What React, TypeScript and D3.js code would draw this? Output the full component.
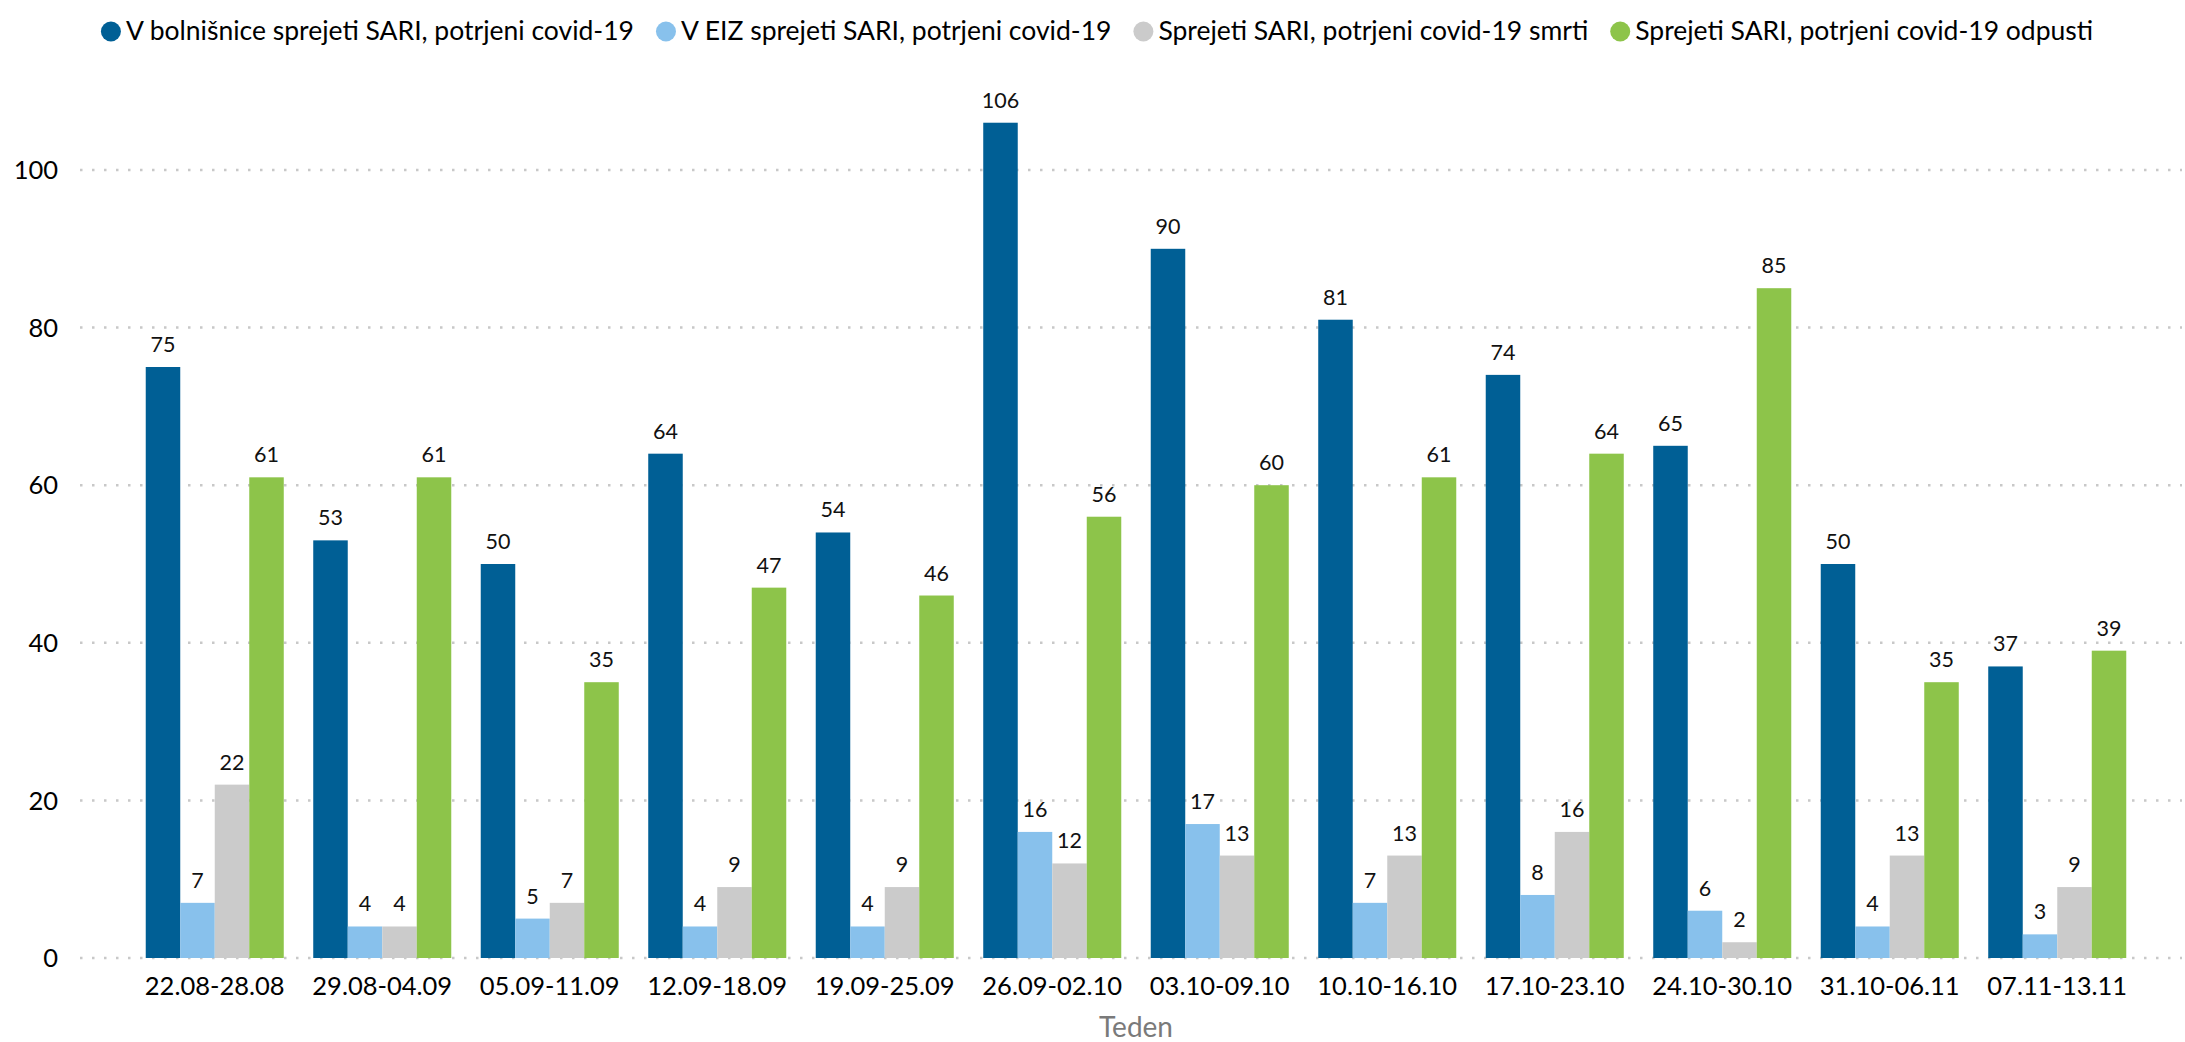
import { useEffect, useRef } from "react";
import * as d3 from "d3";

const weeks = [
  "22.08-28.08",
  "29.08-04.09",
  "05.09-11.09",
  "12.09-18.09",
  "19.09-25.09",
  "26.09-02.10",
  "03.10-09.10",
  "10.10-16.10",
  "17.10-23.10",
  "24.10-30.10",
  "31.10-06.11",
  "07.11-13.11",
];

const seriesNames = [
  "V bolnišnice sprejeti SARI, potrjeni covid-19",
  "V EIZ sprejeti SARI, potrjeni covid-19",
  "Sprejeti SARI, potrjeni covid-19 smrti",
  "Sprejeti SARI, potrjeni covid-19 odpusti",
];

const seriesColors = ["#005f95", "#88c1ec", "#cbcbcb", "#8dc44a"];

const hospitalised = [75, 53, 50, 64, 54, 106, 90, 81, 74, 65, 50, 37];
const icu = [7, 4, 5, 4, 4, 16, 17, 7, 8, 6, 4, 3];
const deaths = [22, 4, 7, 9, 9, 12, 13, 13, 16, 2, 13, 9];
const discharged = [61, 61, 35, 47, 46, 56, 60, 61, 64, 85, 35, 39];

const yTicks = [0, 20, 40, 60, 80, 100];

const FONT = "Lato, 'Open Sans', sans-serif";

export default function App() {
  const svgRef = useRef<SVGSVGElement>(null);

  useEffect(() => {
    document.body.style.margin = "0";
    if (!svgRef.current) return;
    const width = 2185;
    const height = 1042;

    const svg = d3.select(svgRef.current);
    svg.selectAll("*").remove();
    svg.attr("width", width).attr("height", height);

    const values = [hospitalised, icu, deaths, discharged];

    // scales
    const x0 = d3
      .scaleBand<string>()
      .domain(weeks)
      .range([131, 2141])
      .paddingInner(0.176)
      .paddingOuter(0.088);
    const x1 = d3
      .scaleBand<number>()
      .domain(d3.range(seriesNames.length))
      .range([0, x0.bandwidth()]);
    const y = d3.scaleLinear().domain([0, 100]).range([958, 170]);

    // gridlines + y labels
    const grid = svg.append("g");
    yTicks.forEach((t) => {
      grid
        .append("line")
        .attr("x1", 80)
        .attr("x2", 2182)
        .attr("y1", y(t))
        .attr("y2", y(t))
        .attr("stroke", "#c8c8c8")
        .attr("stroke-width", 2.5)
        .attr("stroke-dasharray", "2.5,9.5");
      grid
        .append("text")
        .attr("x", 58)
        .attr("y", y(t))
        .attr("dy", "0.36em")
        .attr("text-anchor", "end")
        .attr("font-family", FONT)
        .attr("font-size", 25.5)
        .attr("fill", "#000")
        .text(t);
    });

    // bars
    const groups = svg
      .append("g")
      .selectAll("g")
      .data(weeks)
      .enter()
      .append("g")
      .attr("transform", (d) => `translate(${x0(d)},0)`);

    groups.each(function (week, wi) {
      const g = d3.select(this);
      values.forEach((vals, si) => {
        const v = vals[wi];
        g.append("rect")
          .attr("x", x1(si)!)
          .attr("y", y(v))
          .attr("width", x1.bandwidth())
          .attr("height", y(0) - y(v))
          .attr("fill", seriesColors[si]);
        g.append("text")
          .attr("x", x1(si)! + x1.bandwidth() / 2)
          .attr("y", y(v) - 15)
          .attr("text-anchor", "middle")
          .attr("font-family", FONT)
          .attr("font-size", 21.5)
          .attr("fill", "#111")
          .text(v);
      });
    });

    // category labels
    svg
      .append("g")
      .selectAll("text")
      .data(weeks)
      .enter()
      .append("text")
      .attr("x", (d) => x0(d)! + x0.bandwidth() / 2)
      .attr("y", 995)
      .attr("text-anchor", "middle")
      .attr("font-family", FONT)
      .attr("font-size", 25.5)
      .attr("fill", "#000")
      .text((d) => d);

    // axis title
    svg
      .append("text")
      .attr("x", (x0.range()[0] + x0.range()[1]) / 2)
      .attr("y", 1037)
      .attr("text-anchor", "middle")
      .attr("font-family", FONT)
      .attr("font-size", 28)
      .attr("fill", "#7a7a7a")
      .text("Teden");

    // legend
    const legend = svg.append("g");
    const gap = 22;
    let cursor = 0;
    seriesNames.forEach((name, i) => {
      const item = legend.append("g").attr("transform", `translate(${cursor},0)`);
      item
        .append("circle")
        .attr("cx", 10)
        .attr("cy", 31.5)
        .attr("r", 10)
        .attr("fill", seriesColors[i]);
      const t = item
        .append("text")
        .attr("x", 25)
        .attr("y", 40)
        .attr("font-family", FONT)
        .attr("font-size", 26.5)
        .attr("fill", "#000")
        .text(name);
      const w = (t.node() as SVGTextElement).getComputedTextLength();
      cursor += 25 + w + gap;
    });
    const legendWidth = cursor - gap;
    legend.attr("transform", `translate(${1097 - legendWidth / 2},0)`);
  }, []);

  return (
    <div style={{ width: 2185, height: 1042, background: "#fff" }}>
      <svg ref={svgRef} style={{ display: "block" }}></svg>
    </div>
  );
}
